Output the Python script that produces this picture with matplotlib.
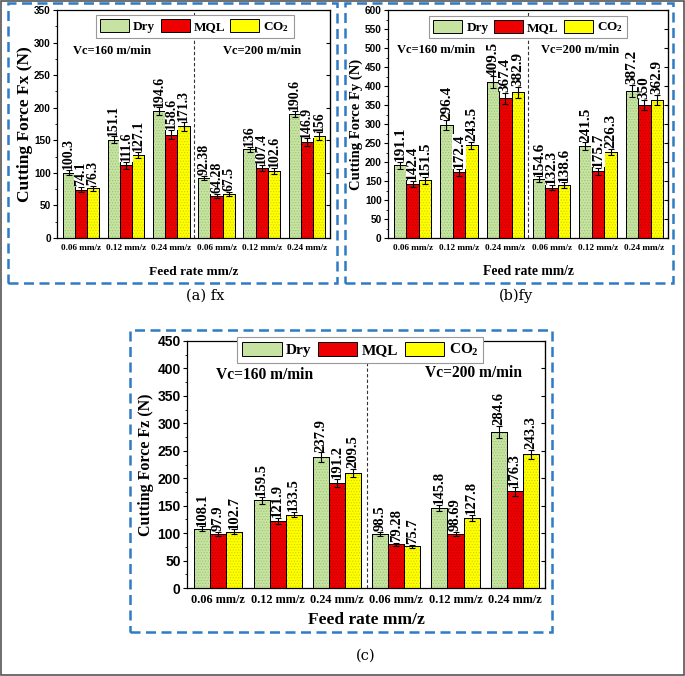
import matplotlib
matplotlib.use('Agg')
import matplotlib.pyplot as plt
import numpy as np
from matplotlib.patches import Rectangle
from matplotlib.ticker import MultipleLocator

plt.rcParams['mathtext.fontset'] = 'custom'
plt.rcParams['mathtext.rm'] = 'Liberation Serif:bold'
plt.rcParams['mathtext.it'] = 'Liberation Serif:bold:italic'
plt.rcParams['mathtext.bf'] = 'Liberation Serif:bold'
plt.rcParams['hatch.linewidth'] = 0.5

# ---------------- data ----------------
feed_labels = ['0.06 mm/z', '0.12 mm/z', '0.24 mm/z', '0.06 mm/z', '0.12 mm/z', '0.24 mm/z']
series_names = ['Dry', 'MQL', 'CO$_2$']
series_colors = ['#c6e3a2', '#ee0000', '#ffff00']
dot_colors = ['#9cc472', '#b80000', '#d0d000']

fx_dry = [100.3, 151.1, 194.6, 92.38, 136, 190.6]
fx_mql = [74.1, 111.6, 158.6, 64.28, 107.4, 146.9]
fx_co2 = [76.3, 127.1, 171.3, 67.5, 102.6, 156]
fx_dry_err = [4, 5, 6, 3, 4, 5]
fx_mql_err = [4, 5, 7, 3, 5, 6]
fx_co2_err = [4, 5, 7, 3, 5, 6]

fy_dry = [191.1, 296.4, 409.5, 154.6, 241.5, 387.2]
fy_mql = [142.4, 172.4, 367.4, 132.3, 175.7, 350]
fy_co2 = [151.5, 243.5, 382.9, 138.6, 226.3, 362.9]
fy_dry_err = [10, 13, 16, 8, 10, 15]
fy_mql_err = [8, 9, 15, 7, 9, 14]
fy_co2_err = [9, 10, 15, 8, 9, 14]

fz_dry = [108.1, 159.5, 237.9, 98.5, 145.8, 284.6]
fz_mql = [97.9, 121.9, 191.2, 79.28, 98.69, 176.3]
fz_co2 = [102.7, 133.5, 209.5, 75.7, 127.8, 243.3]
fz_dry_err = [4, 6, 9, 4, 6, 11]
fz_mql_err = [4, 6, 8, 3, 4, 8]
fz_co2_err = [4, 5, 8, 3, 5, 8]

W, H = 685, 676
fig = plt.figure(figsize=(W / 100, H / 100), dpi=100)

SERIF = 'Liberation Serif'
SANS = 'Liberation Sans'


def px_axes(l, t, r, b):
    return fig.add_axes([l / W, 1 - b / H, (r - l) / W, (b - t) / H])


def panel(ax, vals, errs, ylim, ystep, ylabel, fs):
    x = np.arange(len(feed_labels))
    w = 0.27
    handles = []
    for i, (v, e) in enumerate(zip(vals, errs)):
        xi = x + (i - 1) * w
        b = ax.bar(xi, v, w, color=series_colors[i], edgecolor='black',
                   linewidth=0.7, zorder=2)
        ax.bar(xi, v, w, color='none', edgecolor=dot_colors[i], hatch='......',
               linewidth=0, zorder=2.1)
        ax.bar(xi, v, w, color='none', edgecolor='black', linewidth=0.7, zorder=2.2)
        handles.append(b)
        ax.errorbar(xi, v, yerr=e, fmt='none', ecolor='black', elinewidth=0.8,
                    capsize=2.2, capthick=0.8, zorder=3)
        for xx, vv, ee in zip(xi, v, e):
            lbl = ('%g' % vv)
            ax.text(xx, vv + ee + ylim * 0.003, lbl, rotation=90, ha='center', va='bottom',
                    fontsize=fs['val'], fontweight='bold', family=SERIF, zorder=4,
                    bbox=dict(facecolor='white', edgecolor='none', pad=0.2))
    ax.axvline(2.5, color='#333333', ls=(0, (3, 2)), lw=0.8, zorder=1)
    ax.set_xlim(-0.53, 5.51)
    ax.set_ylim(0, ylim)
    ax.yaxis.set_major_locator(MultipleLocator(ystep))
    ax.yaxis.set_minor_locator(MultipleLocator(ystep / 2))
    ax.set_xticks(x)
    ax.set_xticklabels(feed_labels, fontsize=fs['xt'], fontweight='bold', family=SERIF)
    ax.tick_params(axis='x', length=0, pad=fs['xpad'])
    ax.tick_params(axis='y', which='major', direction='out', length=3, width=0.8,
                   labelsize=fs['yt'], pad=1.5)
    ax.tick_params(axis='y', which='minor', direction='out', length=1.6, width=0.6)
    for lab in ax.get_yticklabels():
        lab.set_fontweight('bold')
        lab.set_family(SANS)
    sec = ax.secondary_yaxis('right')
    sec.yaxis.set_major_locator(MultipleLocator(ystep))
    sec.tick_params(direction='in', length=3, width=0.8, labelright=False)
    for s in ax.spines.values():
        s.set_linewidth(0.9)
    ax.set_ylabel(ylabel, fontsize=fs['yl'], fontweight='bold', family=SERIF)
    ax.yaxis.set_label_coords(fs['ylx'], 0.5)
    ax.set_xlabel('Feed rate mm/z', fontsize=fs['xl'], fontweight='bold', family=SERIF)
    ax.xaxis.set_label_coords(0.5, fs['xly'])
    ax.xaxis.label.set_va('center')
    ax.yaxis.label.set_va('center')
    leg = ax.legend(handles, series_names, ncol=3, loc='upper center',
                    bbox_to_anchor=fs['leg_anchor'],
                    prop=dict(family=SERIF, weight='bold', size=fs['leg']),
                    handlelength=fs['hl'], handleheight=fs['hh'], handletextpad=0.3,
                    columnspacing=0.4, borderpad=0.3, borderaxespad=0,
                    fancybox=False, framealpha=1, edgecolor='#999999')
    leg.set_zorder(5)
    leg.get_frame().set_linewidth(0.8)
    ax.text(fs['vc1'][0], fs['vc1'][1], 'Vc=160 m/min', transform=ax.transAxes,
            ha='center', va='center', fontsize=fs['vc'], fontweight='bold', family=SERIF)
    ax.text(fs['vc2'][0], fs['vc2'][1], 'Vc=200 m/min', transform=ax.transAxes,
            ha='center', va='center', fontsize=fs['vc'], fontweight='bold', family=SERIF)


fs_a = dict(val=10, xt=6.6, xpad=4, yt=7.2, yl=12.5, ylx=-0.117, xl=9.6, xly=-0.149,
            leg=9.5, hl=2.2, hh=1.15, leg_anchor=(0.505, 0.978), vc=9,
            vc1=(0.20, 0.818), vc2=(0.75, 0.818))
fs_b = dict(val=11, xt=6.6, xpad=4, yt=7.2, yl=10.5, ylx=-0.114, xl=9.8, xly=-0.145,
            leg=9.5, hl=2.2, hh=1.15, leg_anchor=(0.50, 0.975), vc=9,
            vc1=(0.17, 0.825), vc2=(0.686, 0.825))
fs_c = dict(val=10.5, xt=8.8, xpad=4, yt=10, yl=11.5, ylx=-0.115, xl=12.5, xly=-0.13,
            leg=11, hl=2.6, hh=1.05, leg_anchor=(0.484, 1.015), vc=11.2,
            vc1=(0.218, 0.862), vc2=(0.80, 0.87))

ax_a = px_axes(57, 10, 330, 238)
panel(ax_a, [fx_dry, fx_mql, fx_co2], [fx_dry_err, fx_mql_err, fx_co2_err],
      350, 50, 'Cutting Force Fx (N)', fs_a)
ax_b = px_axes(388, 10, 668, 238)
panel(ax_b, [fy_dry, fy_mql, fy_co2], [fy_dry_err, fy_mql_err, fy_co2_err],
      600, 50, 'Cutting Force Fy (N)', fs_b)
ax_c = px_axes(187, 341, 545, 588)
panel(ax_c, [fz_dry, fz_mql, fz_co2], [fz_dry_err, fz_mql_err, fz_co2_err],
      450, 50, 'Cutting Force Fz (N)', fs_c)

# dashed frames
def px_rect(l, t, r, b):
    rect = Rectangle((l / W, 1 - b / H), (r - l) / W, (b - t) / H, transform=fig.transFigure,
                     fill=False, edgecolor='#2f7bc4', lw=1.8, ls=(0, (4, 2.2)), zorder=10)
    fig.add_artist(rect)

px_rect(8, 3, 337, 283)
px_rect(345, 3, 673, 283)
px_rect(130, 330, 552, 632)

# outer border
fig.add_artist(Rectangle((0.001, 0.001), 0.998, 0.998, transform=fig.transFigure,
                         fill=False, edgecolor='#555555', lw=1.2, zorder=10))

fig.text(205 / W, 1 - 296 / H, '(a) fx', ha='center', va='center', fontsize=10.5,
         family='DejaVu Serif')
fig.text(516 / W, 1 - 296 / H, '(b)fy', ha='center', va='center', fontsize=10.5,
         family='DejaVu Serif')
fig.text(366 / W, 1 - 656 / H, '(c)', ha='center', va='center', fontsize=10.5,
         family='DejaVu Serif')

fig.savefig('out.png', dpi=100)
